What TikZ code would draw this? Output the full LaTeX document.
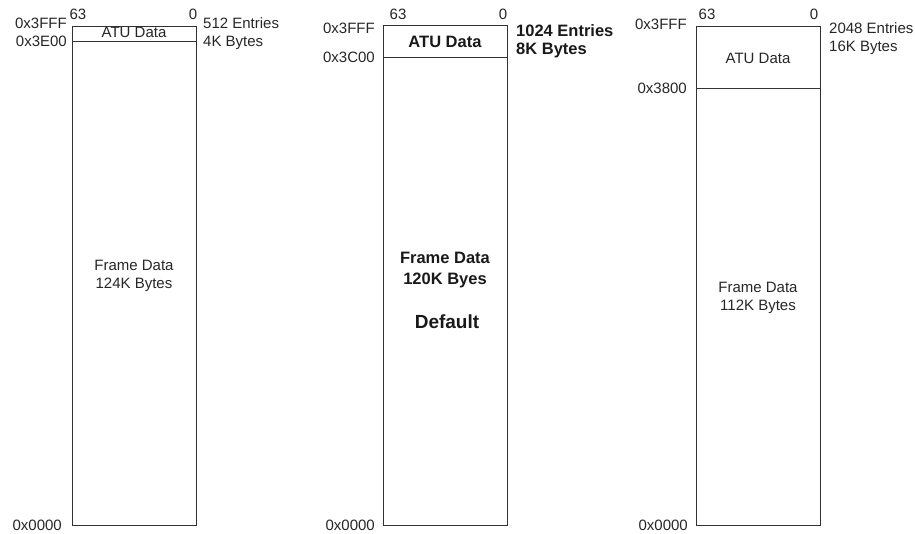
\documentclass[tikz,border=0pt]{standalone}
\usepackage{fontspec}
\setmainfont{Liberation Sans}
\begin{document}
\begin{tikzpicture}[x=1pt,y=-1pt,
  lbl/.style={inner sep=0pt,font=\fontsize{15}{18}\selectfont,text=black!85},
  blbl/.style={inner sep=0pt,font=\fontsize{16.5}{20}\selectfont\bfseries,text=black!90},
  dlbl/.style={inner sep=0pt,font=\fontsize{19}{22}\selectfont\bfseries,text=black!90},
  memline/.style={draw=black!80,line width=1pt}]
\useasboundingbox (0,0) rectangle (915,533);
% ---------- column 1 ----------
\coordinate (b1tl) at (72,26.5);
\coordinate (b1br) at (196,525);
\draw[memline] (b1tl) rectangle (b1br);
\coordinate (d1l) at (72,41);
\coordinate (d1r) at (196,41);
\draw[memline] (d1l) -- (d1r);
\node[lbl,anchor=base] (c1h63) at (78,19) {63};
\node[lbl,anchor=base] (c1h0) at (193,19) {0};
\node[lbl,anchor=base east] (c1a) at (67,28.5) {0x3FFF};
\node[lbl,anchor=base east] (c1b) at (67,46.5) {0x3E00};
\node[lbl,anchor=base west] (c1e) at (203,28) {512 Entries};
\node[lbl,anchor=base west] (c1k) at (203,46) {4K Bytes};
\node[lbl,anchor=base] (c1atu) at (134,37.7) {ATU Data};
\node[lbl,anchor=base] (c1f1) at (134,270) {Frame Data};
\node[lbl,anchor=base] (c1f2) at (134,288) {124K Bytes};
\node[lbl,anchor=base east] (c1z) at (62,530) {0x0000};
% ---------- column 2 ----------
\coordinate (b2tl) at (383,25);
\coordinate (b2br) at (507,525);
\draw[memline] (b2tl) rectangle (b2br);
\coordinate (d2l) at (383,57);
\coordinate (d2r) at (507,57);
\draw[memline] (d2l) -- (d2r);
\node[lbl,anchor=base] (c2h63) at (398,19) {63};
\node[lbl,anchor=base] (c2h0) at (503,19) {0};
\node[lbl,anchor=base east] (c2a) at (375,33) {0x3FFF};
\node[lbl,anchor=base east] (c2b) at (375,62) {0x3C00};
\node[blbl,anchor=base west] (c2e) at (516,36) {1024 Entries};
\node[blbl,anchor=base west] (c2k) at (516,54) {8K Bytes};
\node[blbl,anchor=base] (c2atu) at (445,47) {ATU Data};
\node[blbl,anchor=base] (c2f1) at (445,263) {Frame Data};
\node[blbl,anchor=base] (c2f2) at (445,284) {120K Byes};
\node[dlbl,anchor=base] (c2def) at (447,328) {Default};
\node[lbl,anchor=base east] (c2z) at (375,530) {0x0000};
% ---------- column 3 ----------
\coordinate (b3tl) at (696,26);
\coordinate (b3br) at (820,525);
\draw[memline] (b3tl) rectangle (b3br);
\coordinate (d3l) at (696,88);
\coordinate (d3r) at (820,88);
\draw[memline] (d3l) -- (d3r);
\node[lbl,anchor=base] (c3h63) at (707,19) {63};
\node[lbl,anchor=base] (c3h0) at (814,19) {0};
\node[lbl,anchor=base east] (c3a) at (687,29) {0x3FFF};
\node[lbl,anchor=base east] (c3b) at (687,93) {0x3800};
\node[lbl,anchor=base west] (c3e) at (829,33) {2048 Entries};
\node[lbl,anchor=base west] (c3k) at (829,51) {16K Bytes};
\node[lbl,anchor=base] (c3atu) at (758,63) {ATU Data};
\node[lbl,anchor=base] (c3f1) at (758,292) {Frame Data};
\node[lbl,anchor=base] (c3f2) at (758,310) {112K Bytes};
\node[lbl,anchor=base east] (c3z) at (688,530) {0x0000};
\end{tikzpicture}
\end{document}
